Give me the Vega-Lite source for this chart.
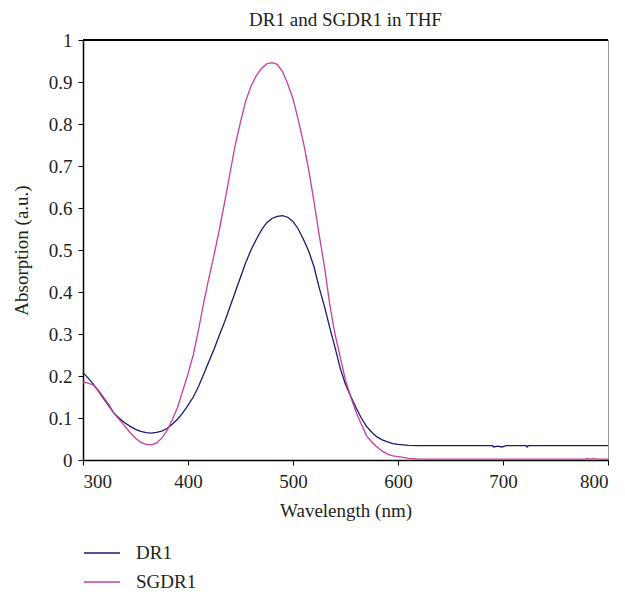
{
  "$schema": "https://vega.github.io/schema/vega-lite/v6.json",
  "width": 525,
  "height": 420,
  "autosize": {"type": "none"},
  "padding": {"left": 83, "top": 40, "right": 17, "bottom": 132},
  "background": "white",
  "config": {
    "font": "Liberation Serif",
    "view": {"stroke": "#999999", "strokeWidth": 1},
    "axis": {"grid": false, "domainColor": "#000000", "tickColor": "#000000", "labelColor": "#231f20", "titleColor": "#231f20", "labelFontSize": 19, "titleFontSize": 19, "titleFontWeight": "normal", "labelFont": "Liberation Serif", "titleFont": "Liberation Serif"}
  },
  "title": {"text": "DR1 and SGDR1 in THF", "fontSize": 19, "fontWeight": "normal", "font": "Liberation Serif", "color": "#231f20", "anchor": "middle", "offset": 1},
  "data": {"values": [
    {"s":"DR1","x":300,"y":0.208},{"s":"DR1","x":305,"y":0.195},{"s":"DR1","x":310,"y":0.18},{"s":"DR1","x":315,"y":0.163},{"s":"DR1","x":320,"y":0.145},{"s":"DR1","x":325,"y":0.127},{"s":"DR1","x":330,"y":0.11},{"s":"DR1","x":335,"y":0.098},{"s":"DR1","x":340,"y":0.088},{"s":"DR1","x":345,"y":0.08},{"s":"DR1","x":350,"y":0.073},{"s":"DR1","x":355,"y":0.068},{"s":"DR1","x":360,"y":0.065},{"s":"DR1","x":365,"y":0.064},{"s":"DR1","x":370,"y":0.066},{"s":"DR1","x":375,"y":0.069},{"s":"DR1","x":380,"y":0.075},{"s":"DR1","x":385,"y":0.085},{"s":"DR1","x":390,"y":0.097},{"s":"DR1","x":395,"y":0.112},{"s":"DR1","x":400,"y":0.13},{"s":"DR1","x":405,"y":0.15},{"s":"DR1","x":410,"y":0.175},{"s":"DR1","x":415,"y":0.205},{"s":"DR1","x":420,"y":0.235},{"s":"DR1","x":425,"y":0.265},{"s":"DR1","x":430,"y":0.298},{"s":"DR1","x":435,"y":0.33},{"s":"DR1","x":440,"y":0.365},{"s":"DR1","x":445,"y":0.4},{"s":"DR1","x":450,"y":0.435},{"s":"DR1","x":455,"y":0.47},{"s":"DR1","x":460,"y":0.5},{"s":"DR1","x":465,"y":0.525},{"s":"DR1","x":470,"y":0.548},{"s":"DR1","x":475,"y":0.565},{"s":"DR1","x":480,"y":0.575},{"s":"DR1","x":485,"y":0.58},{"s":"DR1","x":490,"y":0.582},{"s":"DR1","x":495,"y":0.578},{"s":"DR1","x":500,"y":0.568},{"s":"DR1","x":505,"y":0.55},{"s":"DR1","x":510,"y":0.525},{"s":"DR1","x":515,"y":0.497},{"s":"DR1","x":520,"y":0.46},{"s":"DR1","x":525,"y":0.41},{"s":"DR1","x":530,"y":0.365},{"s":"DR1","x":535,"y":0.315},{"s":"DR1","x":540,"y":0.268},{"s":"DR1","x":545,"y":0.218},{"s":"DR1","x":550,"y":0.18},{"s":"DR1","x":555,"y":0.152},{"s":"DR1","x":560,"y":0.125},{"s":"DR1","x":565,"y":0.1},{"s":"DR1","x":570,"y":0.08},{"s":"DR1","x":575,"y":0.066},{"s":"DR1","x":580,"y":0.055},{"s":"DR1","x":585,"y":0.048},{"s":"DR1","x":590,"y":0.043},{"s":"DR1","x":595,"y":0.039},{"s":"DR1","x":600,"y":0.037},{"s":"DR1","x":605,"y":0.036},{"s":"DR1","x":610,"y":0.035},{"s":"DR1","x":620,"y":0.034},{"s":"DR1","x":650,"y":0.034},{"s":"DR1","x":690,"y":0.034},{"s":"DR1","x":691,"y":0.031},{"s":"DR1","x":695,"y":0.033},{"s":"DR1","x":699,"y":0.031},{"s":"DR1","x":703,"y":0.034},{"s":"DR1","x":722,"y":0.034},{"s":"DR1","x":723,"y":0.031},{"s":"DR1","x":724,"y":0.034},{"s":"DR1","x":800,"y":0.034},
    {"s":"SGDR1","x":300,"y":0.186},{"s":"SGDR1","x":305,"y":0.183},{"s":"SGDR1","x":310,"y":0.178},{"s":"SGDR1","x":315,"y":0.165},{"s":"SGDR1","x":320,"y":0.148},{"s":"SGDR1","x":325,"y":0.13},{"s":"SGDR1","x":330,"y":0.11},{"s":"SGDR1","x":335,"y":0.095},{"s":"SGDR1","x":340,"y":0.08},{"s":"SGDR1","x":345,"y":0.065},{"s":"SGDR1","x":350,"y":0.052},{"s":"SGDR1","x":355,"y":0.042},{"s":"SGDR1","x":360,"y":0.037},{"s":"SGDR1","x":365,"y":0.036},{"s":"SGDR1","x":370,"y":0.04},{"s":"SGDR1","x":375,"y":0.052},{"s":"SGDR1","x":380,"y":0.07},{"s":"SGDR1","x":385,"y":0.095},{"s":"SGDR1","x":390,"y":0.125},{"s":"SGDR1","x":395,"y":0.165},{"s":"SGDR1","x":400,"y":0.205},{"s":"SGDR1","x":405,"y":0.25},{"s":"SGDR1","x":410,"y":0.31},{"s":"SGDR1","x":415,"y":0.375},{"s":"SGDR1","x":420,"y":0.435},{"s":"SGDR1","x":425,"y":0.49},{"s":"SGDR1","x":430,"y":0.55},{"s":"SGDR1","x":435,"y":0.615},{"s":"SGDR1","x":440,"y":0.683},{"s":"SGDR1","x":445,"y":0.75},{"s":"SGDR1","x":450,"y":0.805},{"s":"SGDR1","x":455,"y":0.855},{"s":"SGDR1","x":460,"y":0.89},{"s":"SGDR1","x":465,"y":0.915},{"s":"SGDR1","x":470,"y":0.932},{"s":"SGDR1","x":475,"y":0.943},{"s":"SGDR1","x":480,"y":0.946},{"s":"SGDR1","x":485,"y":0.942},{"s":"SGDR1","x":490,"y":0.925},{"s":"SGDR1","x":495,"y":0.895},{"s":"SGDR1","x":500,"y":0.86},{"s":"SGDR1","x":505,"y":0.81},{"s":"SGDR1","x":510,"y":0.755},{"s":"SGDR1","x":515,"y":0.69},{"s":"SGDR1","x":520,"y":0.615},{"s":"SGDR1","x":525,"y":0.535},{"s":"SGDR1","x":530,"y":0.46},{"s":"SGDR1","x":535,"y":0.37},{"s":"SGDR1","x":540,"y":0.3},{"s":"SGDR1","x":545,"y":0.245},{"s":"SGDR1","x":550,"y":0.19},{"s":"SGDR1","x":555,"y":0.15},{"s":"SGDR1","x":560,"y":0.115},{"s":"SGDR1","x":565,"y":0.085},{"s":"SGDR1","x":570,"y":0.058},{"s":"SGDR1","x":575,"y":0.043},{"s":"SGDR1","x":580,"y":0.031},{"s":"SGDR1","x":585,"y":0.021},{"s":"SGDR1","x":590,"y":0.014},{"s":"SGDR1","x":595,"y":0.01},{"s":"SGDR1","x":600,"y":0.008},{"s":"SGDR1","x":605,"y":0.006},{"s":"SGDR1","x":610,"y":0.004},{"s":"SGDR1","x":615,"y":0.003},{"s":"SGDR1","x":620,"y":0.002},{"s":"SGDR1","x":700,"y":0.002},{"s":"SGDR1","x":778,"y":0.002},{"s":"SGDR1","x":780,"y":0.004},{"s":"SGDR1","x":783,"y":0.002},{"s":"SGDR1","x":786,"y":0.004},{"s":"SGDR1","x":789,"y":0.002},{"s":"SGDR1","x":800,"y":0.002}
  ]},
  "layer": [
    {
      "mark": {"type": "line", "strokeWidth": 1.3},
      "encoding": {
        "x": {"field": "x", "type": "quantitative", "scale": {"domain": [300, 800], "nice": false, "zero": false},
          "axis": {"title": "Wavelength (nm)", "values": [300, 400, 500, 600, 700, 800], "tickSize": 5, "labelPadding": 7, "titlePadding": 10, "domainWidth": 1.5}},
        "y": {"field": "y", "type": "quantitative", "scale": {"domain": [0, 1], "nice": false},
          "axis": {"title": "Absorption (a.u.)", "format": "~g", "values": [0, 0.1, 0.2, 0.3, 0.4, 0.5, 0.6, 0.7, 0.8, 0.9, 1], "tickSize": 5, "labelPadding": 6, "titlePadding": 17, "domainWidth": 1.5}},
        "color": {"field": "s", "type": "nominal", "scale": {"domain": ["DR1", "SGDR1"], "range": ["#1c1a6e", "#c2409e"]},
          "legend": {"title": null, "orient": "none", "legendX": 0, "legendY": 494, "symbolType": "stroke", "symbolSize": 1296, "symbolStrokeWidth": 1.4, "labelFontSize": 19, "labelFont": "Liberation Serif", "labelColor": "#231f20", "labelOffset": 15, "rowPadding": -10, "padding": 0}}
      }
    },
    {
      "mark": {"type": "rule", "color": "#000000", "strokeWidth": 1.5},
      "encoding": {"y": {"datum": 1}}
    }
  ]
}
